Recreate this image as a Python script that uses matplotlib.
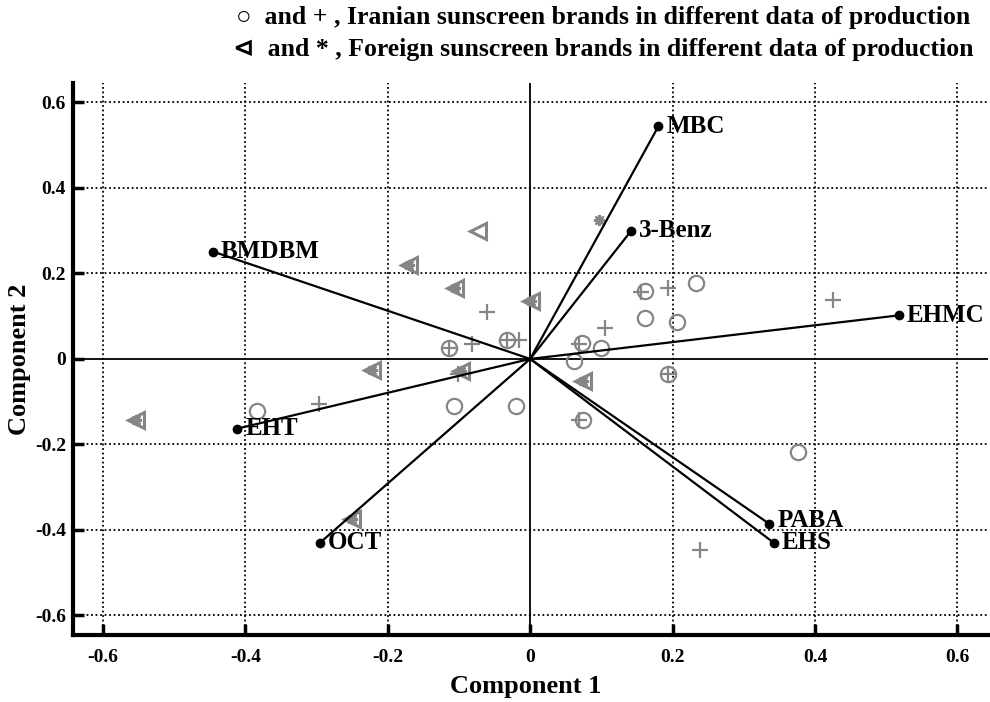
import matplotlib.pyplot as plt
import numpy as np

plt.rcParams['font.family'] = ['Liberation Serif', 'DejaVu Sans']
plt.rcParams['font.weight'] = 'bold'

# loading vectors
names = ['MBC', '3-Benz', 'BMDBM', 'EHMC', 'EHT', 'OCT', 'PABA', 'EHS']
load_x = [0.180, 0.142, -0.445, 0.518, -0.411, -0.295, 0.336, 0.342]
load_y = [0.544, 0.300, 0.251, 0.102, -0.163, -0.430, -0.386, -0.430]

# Iranian brands (circles and pluses)
iran_o_x = [-0.114, -0.032, -0.107, -0.020, -0.384, 0.073, 0.099, 0.061,
            0.074, 0.162, 0.162, 0.233, 0.206, 0.193, 0.376]
iran_o_y = [0.026, 0.044, -0.110, -0.110, -0.122, 0.038, 0.026, -0.005,
            -0.142, 0.096, 0.160, 0.178, 0.086, -0.036, -0.218]
iran_p_x = [-0.114, -0.081, -0.032, -0.015, -0.061, -0.297, -0.102, 0.068,
            0.105, 0.068, 0.155, 0.193, 0.193, 0.426, 0.239]
iran_p_y = [0.026, 0.036, 0.044, 0.044, 0.110, -0.106, -0.036, 0.036,
            0.073, -0.142, 0.156, 0.167, -0.036, 0.139, -0.446]

# Foreign brands (triangles and asterisks)
for_t_x = [-0.073, -0.170, -0.105, 0.001, -0.097, -0.222, -0.554, -0.250, 0.074]
for_t_y = [0.299, 0.219, 0.167, 0.135, -0.028, -0.025, -0.143, -0.375, -0.052]
for_s_x = [0.097, -0.170, -0.105, 0.001, -0.097, -0.222, -0.554, -0.250, 0.074]
for_s_y = [0.326, 0.219, 0.167, 0.135, -0.028, -0.025, -0.143, -0.375, -0.052]

ticks = [-0.6, -0.4, -0.2, 0, 0.2, 0.4, 0.6]
tick_labels = ['-0.6', '-0.4', '-0.2', '0', '0.2', '0.4', '0.6']

fig = plt.figure(figsize=(9.9, 7.02), dpi=100)
ax = fig.add_axes([0.0737, 0.0954, 0.9243, 0.7866])

gray = '#858585'

# grid and centre lines
for t in ticks:
    if t != 0:
        ax.axvline(t, color='black', ls=(0, (1, 1.5)), lw=1.3, zorder=1)
        ax.axhline(t, color='black', ls=(0, (1, 1.5)), lw=1.3, zorder=1)
ax.axhline(0, color='black', lw=1.3, zorder=2)
ax.axvline(0, color='black', lw=1.3, zorder=2)

ax.plot(iran_o_x, iran_o_y, 'o', mfc='none', mec=gray, mew=1.6, ms=11, zorder=3)
ax.plot(iran_p_x, iran_p_y, '+', mec=gray, mew=1.6, ms=11, zorder=3)
ax.plot(for_t_x, for_t_y, '<', mfc='none', mec=gray, mew=2.2, ms=12, zorder=3)
ax.plot(for_s_x, for_s_y, ls='none', marker=(8, 2, 0), mec=gray, mew=1.6, ms=8, zorder=3)

# loading vectors with labels
for n, x, y in zip(names, load_x, load_y):
    ax.plot([0, x], [0, y], color='black', lw=1.6, zorder=4)
    ax.plot(x, y, 'o', color='black', ms=6, zorder=5)
    dy = 0.008 if n == 'PABA' else 0
    ax.text(x + 0.011, y + dy, n, fontsize=18, fontweight='bold', ha='left', va='center', zorder=6)

ax.set_xlim(-0.642, 0.643)
ax.set_ylim(-0.646, 0.646)
ax.set_xticks(ticks)
ax.set_xticklabels(tick_labels)
ax.set_yticks(ticks)
ax.set_yticklabels(tick_labels)
ax.tick_params(direction='in', length=8, width=2.5, labelsize=14)
ax.tick_params(axis='y', pad=5)
ax.tick_params(axis='x', pad=10)
for lab in ax.get_xticklabels() + ax.get_yticklabels():
    lab.set_fontweight('bold')

ax.spines['top'].set_visible(False)
ax.spines['right'].set_visible(False)
ax.spines['left'].set_linewidth(3)
ax.spines['bottom'].set_linewidth(3)

ax.set_xlabel('Component 1', fontsize=19, fontweight='bold', va='center')
ax.set_ylabel('Component 2', fontsize=19, fontweight='bold', va='center')
ax.xaxis.set_label_coords(0.495, -0.093)
ax.yaxis.set_label_coords(-0.058, 0.5)

fig.text(0.609, 0.975, '\u25cb  and + , Iranian sunscreen brands in different data of production',
         fontsize=18.5, fontweight='bold', ha='center', va='center')
fig.text(0.609, 0.930, '\u22b2  and * , Foreign sunscreen brands in different data of production',
         fontsize=18.5, fontweight='bold', ha='center', va='center')

fig.savefig('out.png', dpi=100)
